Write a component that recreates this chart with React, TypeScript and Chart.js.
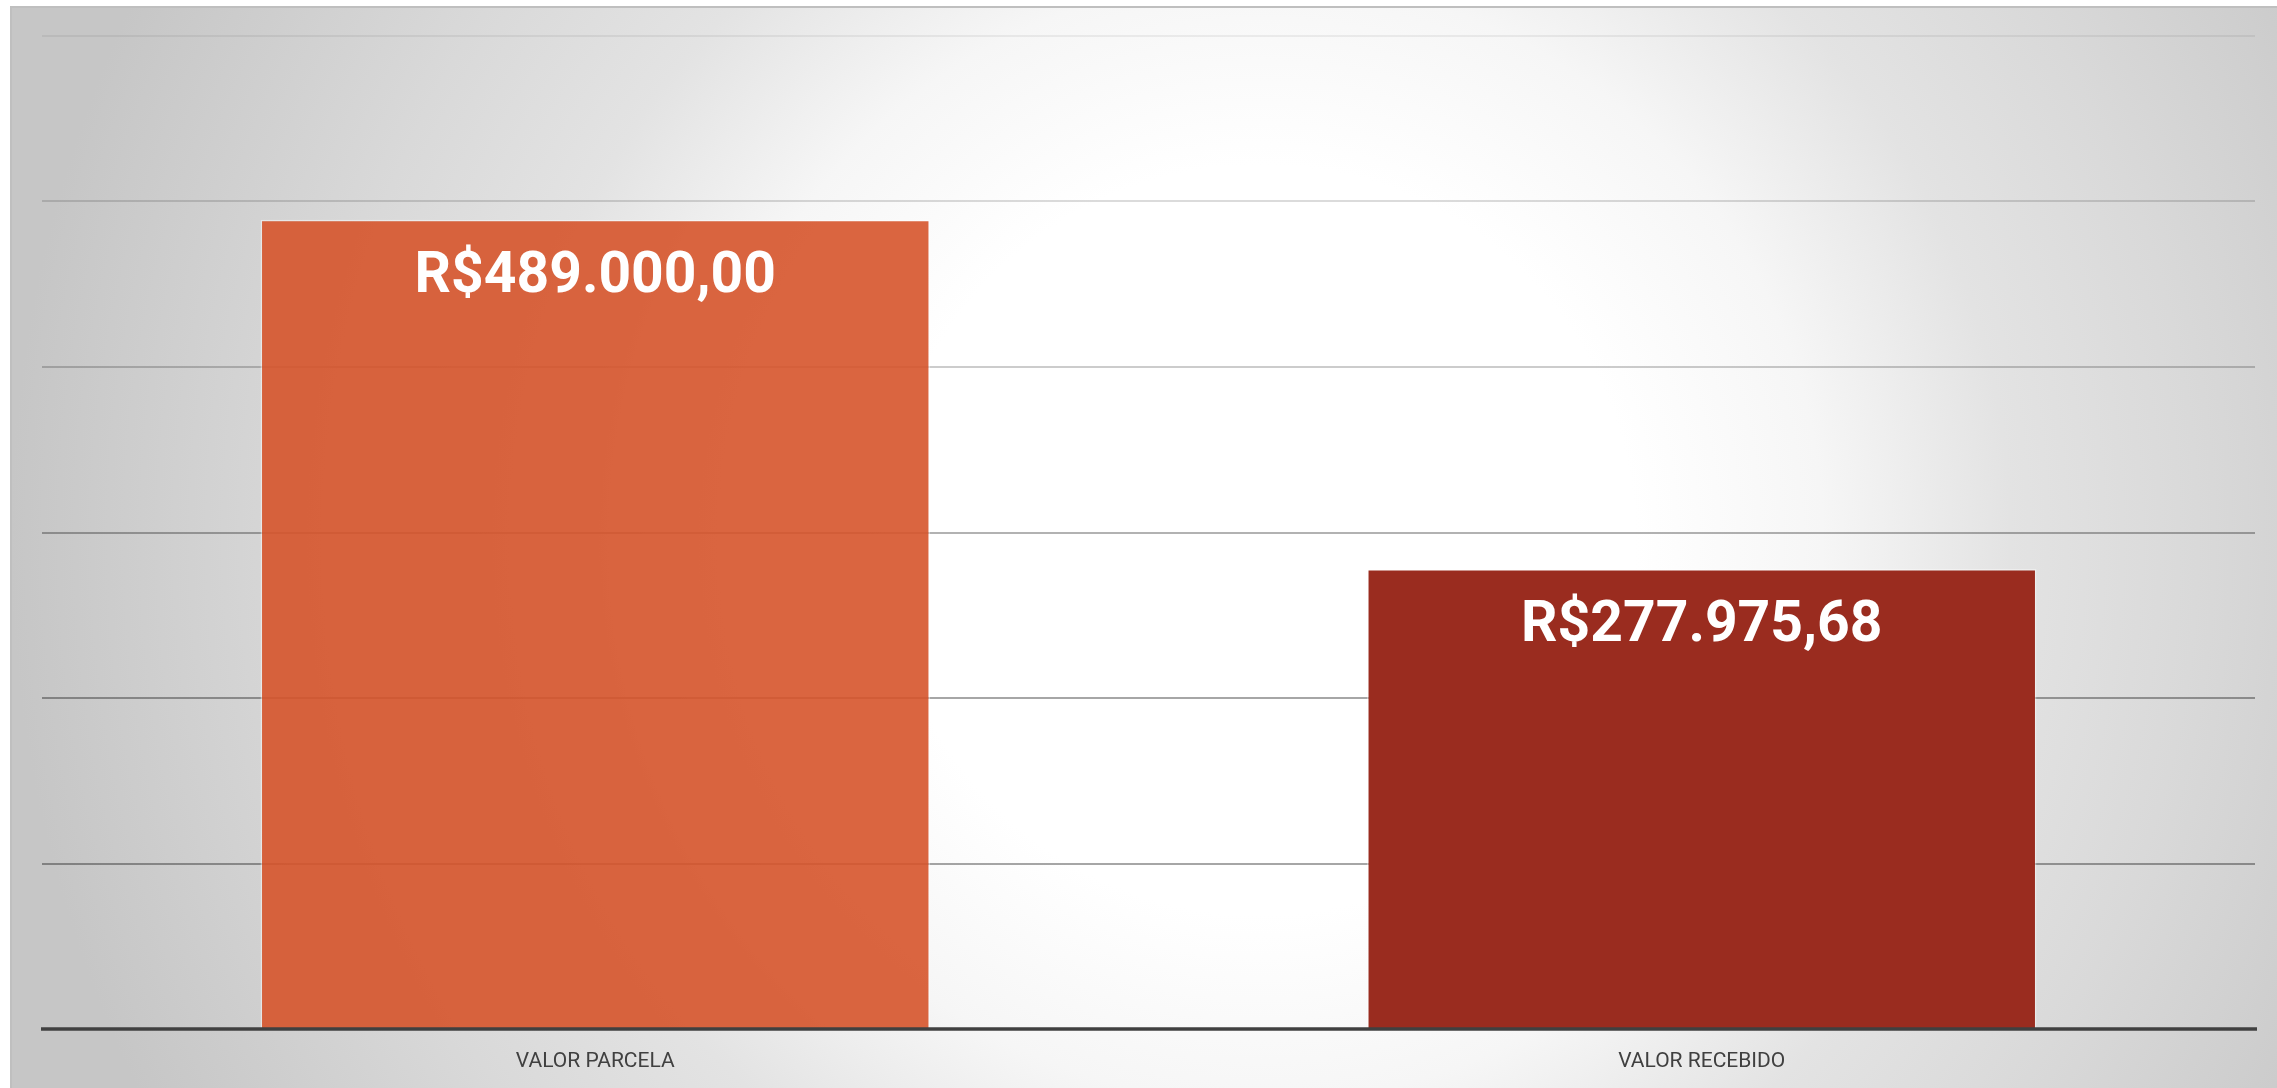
import React, { useEffect, useRef } from "react";
import { Chart, registerables } from "chart.js";

Chart.register(...registerables);

const categories = ["VALOR PARCELA", "VALOR RECEBIDO"];
const values = [489000, 277975.68];
const barColors = ["rgba(214,84,43,0.9)", "rgba(154,44,31,1)"];
const yTicks = [0, 100000, 200000, 300000, 400000, 500000, 600000];
const gridAlphas = [0, 0.35, 0.35, 0.3, 0.2, 0.14, 0.06];

function formatBRL(v: number): string {
  const [intPart, dec] = v.toFixed(2).split(".");
  const withDots = intPart.replace(/\B(?=(\d{3})+(?!\d))/g, ".");
  return "R$" + withDots + "," + dec;
}

const bgPlugin = {
  id: "bgPlugin",
  beforeDraw(chart: any) {
    const ctx = chart.ctx as CanvasRenderingContext2D;
    const W = chart.width;
    const H = chart.height;
    ctx.save();
    ctx.fillStyle = "#ffffff";
    ctx.fillRect(0, 0, W, H);
    const x0 = 11, y0 = 7;
    const cx = 1260, cy = 540, rx = 1250, ry = 1250;
    ctx.save();
    ctx.beginPath();
    ctx.rect(x0, y0, W - x0, H - y0);
    ctx.clip();
    ctx.translate(cx, cy);
    ctx.scale(1, ry / rx);
    const g = ctx.createRadialGradient(0, 0, 0, 0, 0, rx);
    g.addColorStop(0, "#ffffff");
    g.addColorStop(0.3, "#ffffff");
    g.addColorStop(0.45, "#f6f6f6");
    g.addColorStop(0.6, "#e3e3e3");
    g.addColorStop(0.75, "#d9d9d9");
    g.addColorStop(1, "#c6c6c6");
    ctx.fillStyle = g;
    ctx.fillRect(-rx * 2, -rx * 2, rx * 4, rx * 4);
    ctx.restore();
    ctx.strokeStyle = "#bfbfbf";
    ctx.lineWidth = 2;
    ctx.beginPath();
    ctx.moveTo(x0, H + 2);
    ctx.lineTo(x0, y0);
    ctx.lineTo(W + 2, y0);
    ctx.stroke();
    ctx.restore();
  },
};

const labelPlugin = {
  id: "labelPlugin",
  afterDatasetsDraw(chart: any) {
    const ctx = chart.ctx as CanvasRenderingContext2D;
    const area = chart.chartArea;
    ctx.save();
    ctx.strokeStyle = "#404040";
    ctx.lineWidth = 3.5;
    const yBase = chart.scales.y.getPixelForValue(0);
    ctx.beginPath();
    ctx.moveTo(area.left - 1, yBase);
    ctx.lineTo(area.right + 2, yBase);
    ctx.stroke();
    const meta = chart.getDatasetMeta(0);
    ctx.fillStyle = "#ffffff";
    ctx.font = "bold 57px Roboto";
    ctx.textAlign = "center";
    ctx.textBaseline = "alphabetic";
    meta.data.forEach((bar: any, i: number) => {
      ctx.fillText(formatBRL(values[i]), bar.x, bar.y + 72);
    });
    ctx.restore();
  },
};

export default function App() {
  const ref = useRef<HTMLCanvasElement>(null);
  useEffect(() => {
    document.body.style.margin = "0";
    const chart = new Chart(ref.current!, {
      type: "bar",
      data: {
        labels: categories,
        datasets: [
          {
            data: values,
            backgroundColor: barColors,
            borderColor: ["rgba(255,255,255,0.45)", "rgba(255,255,255,0.4)"],
            borderWidth: 1.5,
            barPercentage: 0.605,
            categoryPercentage: 1,
          },
        ],
      },
      options: {
        animation: false,
        responsive: false,
        maintainAspectRatio: false,
        layout: { padding: { left: 42, right: 22, top: 36, bottom: 0 } },
        plugins: { legend: { display: false }, tooltip: { enabled: false } },
        scales: {
          x: {
            grid: { display: false, drawTicks: false },
            border: { display: false },
            afterFit: (scale: any) => {
              scale.height = 59;
            },
            ticks: {
              color: "#404040",
              font: { family: "Roboto", size: 21 },
              padding: 20,
            },
          },
          y: {
            min: 0,
            max: 600000,
            afterBuildTicks: (scale: any) => {
              scale.ticks = yTicks.map((v) => ({ value: v }));
            },
            ticks: { display: false },
            border: { display: false },
            grid: {
              drawTicks: false,
              lineWidth: 2,
              color: (c: any) => {
                const idx = yTicks.indexOf(c.tick ? c.tick.value : -1);
                const a = idx >= 0 ? gridAlphas[idx] : 0;
                return `rgba(0,0,0,${a})`;
              },
            },
          },
        },
      },
      plugins: [bgPlugin, labelPlugin],
    });
    return () => chart.destroy();
  }, []);
  return (
    <canvas
      ref={ref}
      width={2277}
      height={1088}
      style={{ display: "block", width: 2277, height: 1088 }}
    />
  );
}
